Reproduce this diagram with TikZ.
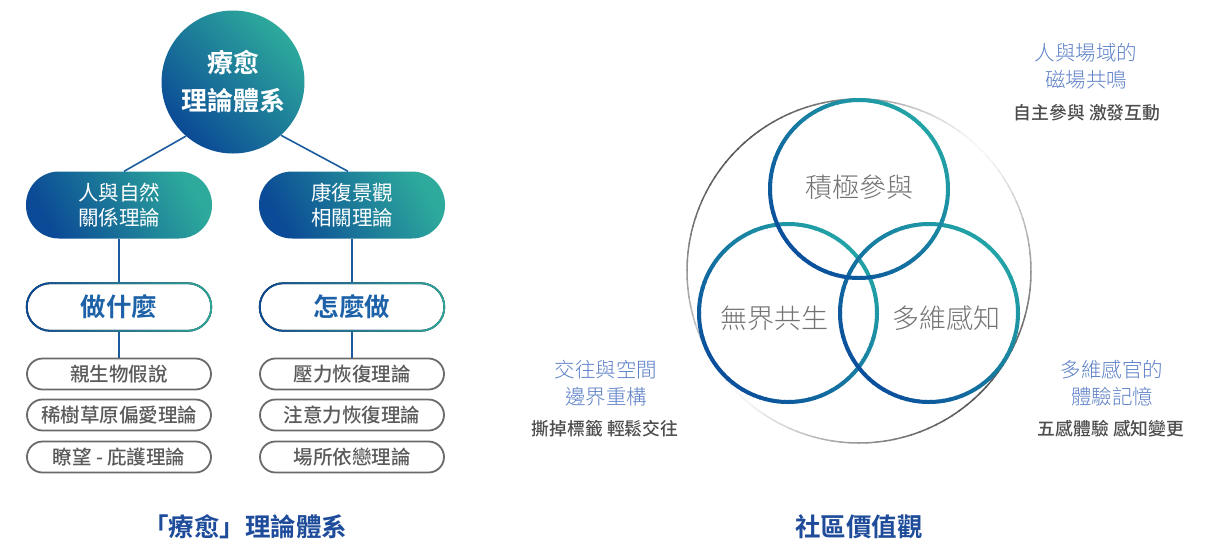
\documentclass[tikz,border=0pt]{standalone}
\usepackage{fontspec}
\newfontfamily\cjk{Noto Sans CJK TC}
\IfFontExistsTF{Noto Sans CJK TC Bold}{\newfontfamily\cjkb{Noto Sans CJK TC Bold}}{\newfontfamily\cjkb{Noto Sans CJK TC}[FakeBold=2]}
\IfFontExistsTF{Noto Sans CJK TC Light}{\newfontfamily\cjkl{Noto Sans CJK TC Light}}{\newfontfamily\cjkl{Noto Sans CJK TC}}
\IfFontExistsTF{Noto Sans CJK TC Medium}{\newfontfamily\cjkm{Noto Sans CJK TC Medium}}{\newfontfamily\cjkm{Noto Sans CJK TC}}
\definecolor{cblue}{HTML}{0B4A96}
\definecolor{cteal}{HTML}{2DAA9C}
\definecolor{vblue}{HTML}{0A4F9C}
\definecolor{vteal}{HTML}{22A3A6}
\definecolor{cline}{HTML}{1B5C9E}
\definecolor{ctitle}{HTML}{1E4C9A}
\definecolor{cgray}{HTML}{6A6A6A}
\definecolor{ctext}{HTML}{5A5A5A}
\definecolor{cvenn}{HTML}{727272}
\definecolor{clab}{HTML}{5B7FC6}
\definecolor{cdark}{HTML}{4D4D4D}
\definecolor{cmidtxt}{HTML}{1D62A8}
\begin{document}
\begin{tikzpicture}[x=1pt,y=-1pt,
  rootc/.style={circle, minimum size=143pt, inner sep=0pt, text=white, align=center,
    left color=cblue, right color=cteal, shading angle=135,
    font={\cjkb\fontsize{26}{38}\selectfont}},
  pillg/.style={rectangle, rounded corners=33pt, minimum width=186pt, minimum height=67pt,
    inner sep=0pt, text=white, align=center, left color=cblue, right color=cteal, shading angle=120,
    font={\cjk\fontsize{20.5}{25}\selectfont}},
  midp/.style={rectangle, minimum width=186pt, minimum height=49pt, inner sep=0pt,
    text=cmidtxt, font={\cjkb\fontsize{25.5}{30}\selectfont}},
  lowp/.style={draw=cgray, line width=1.8pt, rounded corners=15.5pt, minimum width=184pt,
    minimum height=31pt, inner sep=0pt, text=ctext, font={\cjkm\fontsize{19.5}{22}\selectfont}},
  conn/.style={draw=cline, line width=1.6pt},
  ttl/.style={text=ctitle, font={\cjkb\fontsize{25.5}{30}\selectfont}},
  venn/.style={text=cvenn, font={\cjkl\fontsize{27}{30}\selectfont}},
  blab/.style={text=clab, align=center, font={\cjkl\fontsize{20.5}{26.5}\selectfont}},
  dlab/.style={text=cdark, font={\cjkm\fontsize{17.8}{20}\selectfont}}
]
\useasboundingbox (0,0) rectangle (1217,542);

% ---------- left: theory tree ----------
\node[rootc] (root) at (233,82) {療愈\\理論體系};
\node[pillg] (a) at (119,205) {人與自然\\關係理論};
\node[pillg] (b) at (352,205) {康復景觀\\相關理論};
\draw[conn] (root.229) -- ([xshift=5pt]a.north);
\draw[conn] (root.312) -- ([xshift=-4pt]b.north);

\node[midp] (a2) at (119,307) {做什麼};
\node[midp] (b2) at (352,307) {怎麼做};
\foreach \n in {a2,b2}{
  \fill[left color=cblue, right color=cteal, even odd rule]
    [rounded corners=24.5pt] (\n.south west) rectangle (\n.north east)
    [rounded corners=22.7pt] ([xshift=1.8pt,yshift=1.8pt]\n.south west) rectangle ([xshift=-1.8pt,yshift=-1.8pt]\n.north east);
}
\draw[conn] (a) -- (a2);
\draw[conn] (b) -- (b2);

\node[lowp] (a3) at (119,374) {親生物假說};
\node[lowp] (a4) at (119,415) {稀樹草原偏愛理論};
\node[lowp] (a5) at (119,457) {瞭望 - 庇護理論};
\node[lowp] (b3) at (352,374) {壓力恢復理論};
\node[lowp] (b4) at (352,415) {注意力恢復理論};
\node[lowp] (b5) at (352,457) {場所依戀理論};
\draw[conn] (a2) -- (a3);
\draw[conn] (b2) -- (b3);

\node[ttl] (t1) at (245,527) {「療愈」理論體系};

% ---------- right: community values ----------
\foreach \a in {0,3,...,357}{
  \pgfmathsetmacro\d{3+62*(abs(cos(\a+1.5+135)))^1.4}
  \draw[line width=1.5pt, color=black!\d] ([shift={(\a:172)}]859,271) arc[start angle=\a, end angle=\a+3.5, radius=172];
}
\foreach \cx/\cy in {788/313, 929/313, 859/189}{
  \foreach \a in {0,4,...,356}{
    \pgfmathsetmacro\t{100*(0.5+0.5*cos(\a+2-315))}
    \draw[line width=4pt, color=vteal!\t!vblue] ([shift={(\a:89)}]\cx,\cy) arc[start angle=\a, end angle=\a+4.6, radius=89];
  }
}
\node[venn] (v1) at (859,187) {積極參與};
\node[venn] (v2) at (774,318) {無界共生};
\node[venn] (v3) at (946,318) {多維感知};

\node[blab] (l1) at (1086,66) {人與場域的\\磁場共鳴};
\node[dlab] (d1) at (1087,113) {自主參與 激發互動};
\node[blab] (l2) at (606,383) {交往與空間\\邊界重構};
\node[dlab] (d2) at (605,429) {撕掉標籤 輕鬆交往};
\node[blab] (l3) at (1112,383) {多維感官的\\體驗記憶};
\node[dlab] (d3) at (1111,429) {五感體驗 感知變更};

\node[ttl] (t2) at (859,527) {社區價值觀};
\end{tikzpicture}
\end{document}
